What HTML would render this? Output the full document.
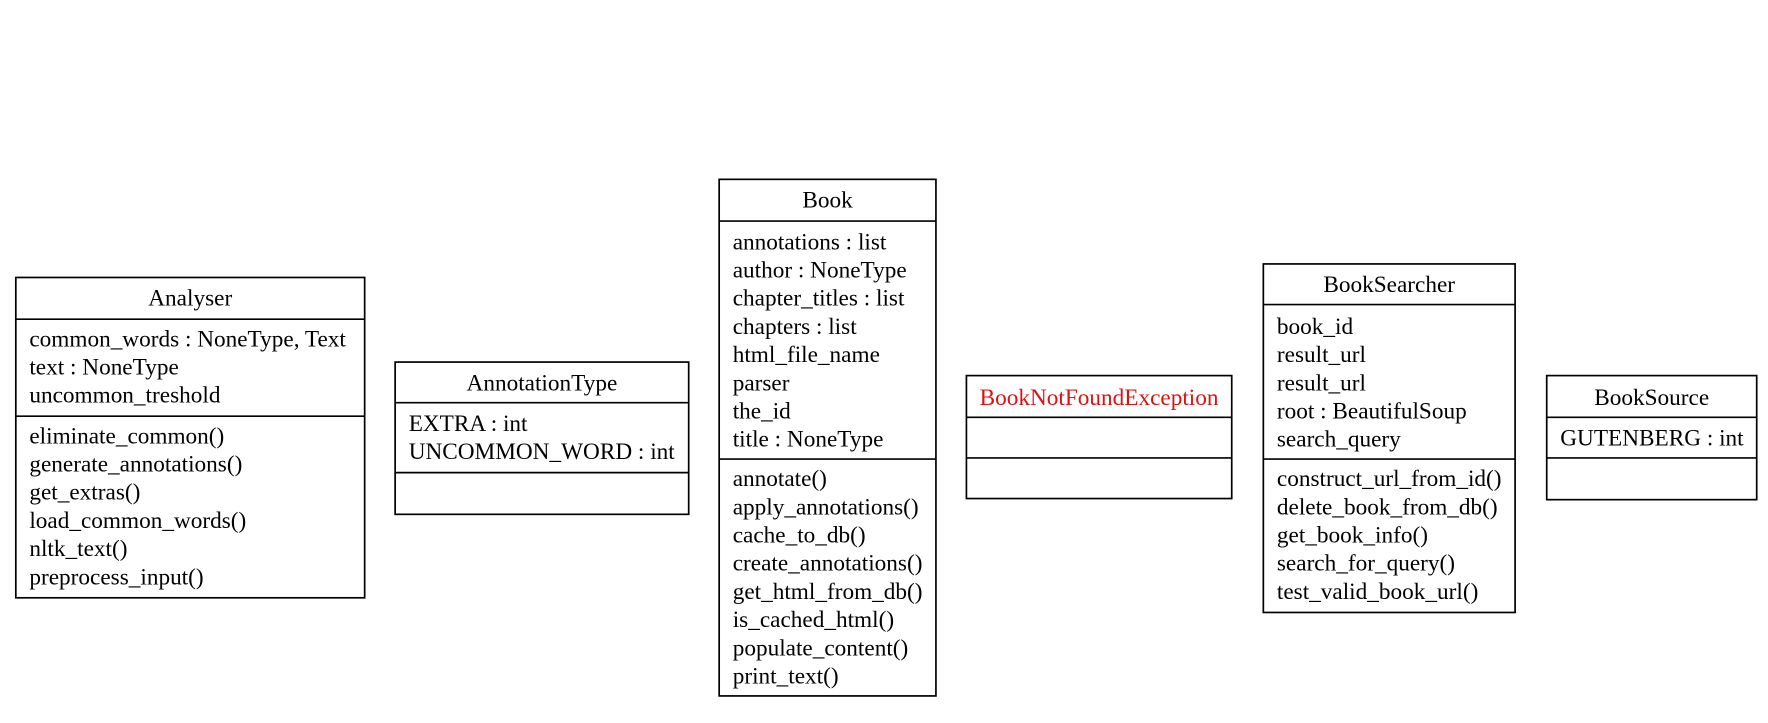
<!DOCTYPE html>
<html><head><meta charset="utf-8"><style>
html,body{margin:0;padding:0;background:#fff;}
svg{display:block;}
text{font-family:"Liberation Serif",serif;font-size:20.6px;fill:#000;}
.c{text-anchor:middle;}
rect,line{stroke:#000;stroke-width:1.5;fill:none;}
</style></head><body>
<svg width="1768" height="723" viewBox="0 0 1566 641" preserveAspectRatio="none" xmlns="http://www.w3.org/2000/svg">
<rect x="14" y="246" width="309" height="284"/>
<line x1="14" y1="283" x2="323" y2="283"/><line x1="14" y1="369" x2="323" y2="369"/>
<text class="c" x="168.5" y="271">Analyser</text>
<text x="26" y="307">common_words : NoneType, Text</text>
<text x="26" y="332">text : NoneType</text>
<text x="26" y="357">uncommon_treshold</text>
<text x="26" y="393">eliminate_common()</text>
<text x="26" y="418">generate_annotations()</text>
<text x="26" y="443">get_extras()</text>
<text x="26" y="468">load_common_words()</text>
<text x="26" y="493">nltk_text()</text>
<text x="26" y="518">preprocess_input()</text>

<rect x="350" y="321" width="260" height="135"/>
<line x1="350" y1="357" x2="610" y2="357"/><line x1="350" y1="419" x2="610" y2="419"/>
<text class="c" x="480" y="346">AnnotationType</text>
<text x="362" y="382">EXTRA : int</text>
<text x="362" y="407">UNCOMMON_WORD : int</text>

<rect x="637" y="159" width="192" height="458"/>
<line x1="637" y1="196" x2="829" y2="196"/><line x1="637" y1="407" x2="829" y2="407"/>
<text class="c" x="733" y="184">Book</text>
<text x="649" y="221">annotations : list</text>
<text x="649" y="246">author : NoneType</text>
<text x="649" y="271">chapter_titles : list</text>
<text x="649" y="296">chapters : list</text>
<text x="649" y="321">html_file_name</text>
<text x="649" y="346">parser</text>
<text x="649" y="371">the_id</text>
<text x="649" y="396">title : NoneType</text>
<text x="649" y="431">annotate()</text>
<text x="649" y="456">apply_annotations()</text>
<text x="649" y="481">cache_to_db()</text>
<text x="649" y="506">create_annotations()</text>
<text x="649" y="531">get_html_from_db()</text>
<text x="649" y="556">is_cached_html()</text>
<text x="649" y="581">populate_content()</text>
<text x="649" y="606">print_text()</text>

<rect x="856" y="333" width="235" height="109"/>
<line x1="856" y1="370" x2="1091" y2="370"/><line x1="856" y1="406" x2="1091" y2="406"/>
<text class="c" x="973.5" y="359" style="fill:#e01010">BookNotFoundException</text>

<rect x="1119" y="234" width="223" height="309"/>
<line x1="1119" y1="270" x2="1342" y2="270"/><line x1="1119" y1="407" x2="1342" y2="407"/>
<text class="c" x="1230.5" y="259">BookSearcher</text>
<text x="1131" y="296">book_id</text>
<text x="1131" y="321">result_url</text>
<text x="1131" y="346">result_url</text>
<text x="1131" y="371">root : BeautifulSoup</text>
<text x="1131" y="396">search_query</text>
<text x="1131" y="431">construct_url_from_id()</text>
<text x="1131" y="456">delete_book_from_db()</text>
<text x="1131" y="481">get_book_info()</text>
<text x="1131" y="506">search_for_query()</text>
<text x="1131" y="531">test_valid_book_url()</text>

<rect x="1370" y="333" width="186" height="110"/>
<line x1="1370" y1="370" x2="1556" y2="370"/><line x1="1370" y1="406" x2="1556" y2="406"/>
<text class="c" x="1463" y="359">BookSource</text>
<text x="1382" y="395">GUTENBERG : int</text>
</svg>
</body></html>
